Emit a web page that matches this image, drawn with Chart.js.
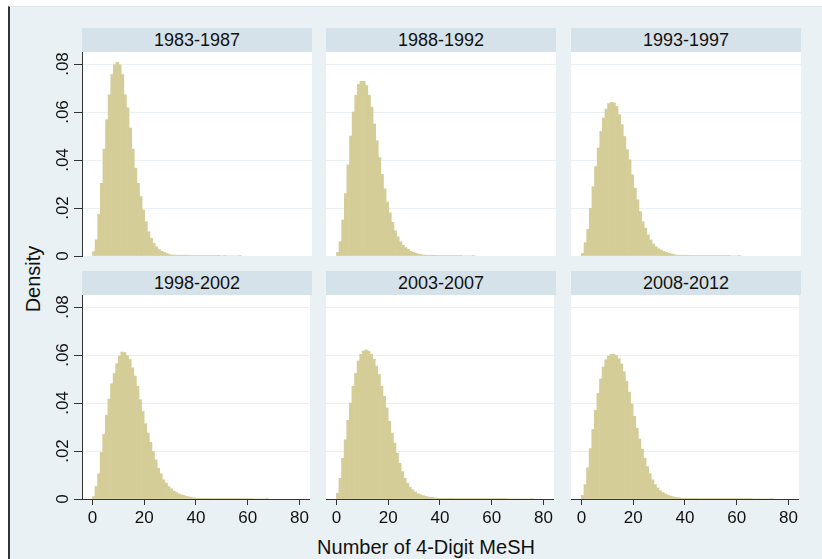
<!DOCTYPE html>
<html>
<head>
<meta charset="utf-8">
<script src="https://cdn.jsdelivr.net/npm/chart.js@4.4.1/dist/chart.umd.min.js"></script>
<style>
  body { margin: 0; background: #fff; width: 822px; height: 559px; overflow: hidden;
         font-family: Arial, "Liberation Sans", sans-serif; }
  #frame { position: absolute; left: 8px; top: 6px; width: 814px; height: 553px;
           background: #eaf1f4; border-left: 2px solid #333; border-top: 1px solid #dfe7eb;
           box-sizing: border-box; }
  .strip { position: absolute; height: 24px; line-height: 24px; background: #d6e2e9;
           color: #111; font-size: 18px; text-align: center; }
  .title { position: absolute; color: #111; font-size: 20px; white-space: nowrap; }
  canvas { position: absolute; }
</style>
</head>
<body>
<div id="frame"></div>
<div class="title" id="ytitle" style="left:33px;top:279px;transform:translate(-50%,-50%) rotate(-90deg);">Density</div>
<div class="title" style="left:426px;top:547px;transform:translate(-50%,-50%);">Number of 4-Digit MeSH</div>
<script>
// periodos (un panel por periodo)
const periods = ['1983-1987', '1988-1992', '1993-1997', '1998-2002', '2003-2007', '2008-2012'];

// densidad por valor entero (bin k va de k a k+1)
const density8387 = [.0018,.0067,.0174,.0303,.0445,.0568,.0672,.0756,.0797,.0807,
  .0797,.0756,.0672,.0617,.0533,.0445,.0366,.0303,.0248,.0192,
  .0143,.0101,.0074,.0053,.0038,.0027,.0020,.0015,.0010,.0006,
  .0004,.0004,.0003,.0003,.0003,.0003,.0003,.0002,.0002,.0002,
  .0002,.0002,.0002,.0002,.0002,.0002,.0002,.0002,.0002,0,
  .0002,0,0,0,0,0,.0002];
const density8892 = [.0015,.0060,.0150,.0260,.0380,.0500,.0600,.0670,.0715,.0728,
  .0728,.0710,.0670,.0620,.0550,.0480,.0410,.0340,.0280,.0225,
  .0180,.0140,.0105,.0080,.0060,.0045,.0035,.0027,.0020,.0015,
  .0011,.0008,.0006,.0004,.0003,.0003,.0003,.0003,.0002,.0002,
  .0002,.0002,.0002,.0002,.0002,.0002,.0002,.0002,0,0,
  0,0,.0002];
const density9397 = [.0011,.0056,.0111,.0199,.0289,.0373,.0450,.0519,.0575,.0612,
  .0635,.0640,.0638,.0623,.0589,.0547,.0498,.0443,.0401,.0338,
  .0283,.0234,.0185,.0143,.0116,.0088,.0067,.0050,.0039,.0030,
  .0025,.0019,.0015,.0012,.0009,.0006,.0004,.0003,.0003,.0003,
  .0003,.0002,.0002,.0002,.0002,.0002,.0002,.0002,.0002,.0002,
  .0002,.0002,.0002,.0002,.0002,.0002,.0002,0,0,0,.0002];
const density9802 = [.0010,.0052,.0105,.0194,.0270,.0349,.0417,.0480,.0523,.0564,
  .0596,.0612,.0610,.0598,.0582,.0547,.0512,.0470,.0414,.0365,
  .0314,.0275,.0236,.0198,.0163,.0128,.0105,.0080,.0066,.0052,
  .0042,.0033,.0027,.0021,.0017,.0014,.0011,.0008,.0006,.0004,
  .0003,.0003,.0003,.0003,.0003,.0002,.0002,.0002,.0002,.0002,
  .0002,.0002,.0002,.0002,.0002,.0002,.0002,.0002,.0002,.0002,
  .0002,.0002,0,0,0,0,0,.0002];
const density0307 = [.0024,.0086,.0170,.0247,.0328,.0400,.0470,.0523,.0575,.0603,
  .0616,.0621,.0616,.0603,.0582,.0554,.0519,.0470,.0428,.0379,
  .0324,.0275,.0233,.0191,.0149,.0114,.0086,.0066,.0049,.0038,
  .0029,.0022,.0018,.0014,.0011,.0008,.0007,.0006,.0004,.0003,
  .0003,.0003,.0003,.0003,.0003,.0002,.0002,.0002,.0002,.0002,
  .0002,.0002,.0002,.0002,.0002,.0002,.0002,.0002,.0002,.0002,
  .0002,.0002,.0002,.0002,.0002,.0002,0,0,0,0,
  0,0,0,0,0,.0002];
const density0812 = [.0015,.0060,.0130,.0210,.0290,.0370,.0440,.0500,.0550,.0580,
  .0595,.0602,.0603,.0598,.0585,.0562,.0530,.0490,.0445,.0395,
  .0345,.0295,.0250,.0208,.0170,.0135,.0105,.0080,.0060,.0046,
  .0035,.0027,.0021,.0016,.0012,.0009,.0007,.0005,.0004,.0003,
  .0003,.0003,.0003,.0003,.0003,.0002,.0002,.0002,.0002,.0002,
  .0002,.0002,.0002,.0002,.0002,.0002,.0002,.0002,.0002,.0002,
  .0002,.0002,.0002,.0002,.0002,.0002,0,0,0,0,
  0,0,0,.0002];
const series = [density8387, density8892, density9397, density9802, density0307, density0812];

const xTicks = [0, 20, 40, 60, 80];
const yTicks = [0, .02, .04, .06, .08];
const yTickLabels = ['0', '.02', '.04', '.06', '.08'];

// posiciones de los paneles (px)
const colLeft = [82, 326, 571];
const plotW = 230;
const stripTop = [28, 271];
const stripH = 24;
const plotH = 204;
const yAxisW = 30;
const xAxisH = 30;
const padBottom = 12; // margen para la etiqueta "0" en la fila de arriba

const barColor = '#d4cd98';
const gridColor = '#eaf1f4';
const axisColor = '#333';
const fontFam = 'Arial, "Liberation Sans", sans-serif';

// fondo blanco del area de trazado
const plotBg = {
  id: 'plotBg',
  beforeDraw(chart) {
    const a = chart.chartArea, ctx = chart.ctx;
    ctx.save();
    ctx.fillStyle = '#fff';
    ctx.fillRect(a.left, a.top, a.right - a.left, a.bottom - a.top);
    ctx.restore();
  }
};

// etiquetas del eje y giradas 90 grados (estilo Stata)
const yLabels = {
  id: 'yLabels',
  afterDraw(chart) {
    if (!chart.$showY) return;
    const s = chart.scales.y, ctx = chart.ctx;
    ctx.save();
    ctx.fillStyle = '#111';
    ctx.font = '17px ' + fontFam;
    ctx.textAlign = 'center';
    ctx.textBaseline = 'alphabetic';
    yTicks.forEach((v, i) => {
      const y = s.getPixelForValue(v);
      ctx.save();
      ctx.translate(s.right - 14, y);
      ctx.rotate(-Math.PI / 2);
      ctx.fillText(yTickLabels[i], 0, 0);
      ctx.restore();
    });
    ctx.restore();
  }
};

periods.forEach((p, i) => {
  const row = Math.floor(i / 3), col = i % 3;
  const left = colLeft[col], top = stripTop[row];
  const showY = col === 0, showX = row === 1;

  const strip = document.createElement('div');
  strip.className = 'strip';
  strip.style.left = left + 'px';
  strip.style.top = top + 'px';
  strip.style.width = plotW + 'px';
  strip.textContent = p;
  document.body.appendChild(strip);

  const cv = document.createElement('canvas');
  const w = plotW + (showY ? yAxisW : 0);
  const h = plotH + (showX ? xAxisH : padBottom);
  cv.width = w; cv.height = h;
  cv.style.width = w + 'px'; cv.style.height = h + 'px';
  cv.style.left = (left - (showY ? yAxisW : 0)) + 'px';
  cv.style.top = (top + stripH) + 'px';
  document.body.appendChild(cv);

  const chart = new Chart(cv, {
    type: 'bar',
    data: {
      datasets: [{
        data: series[i].map((v, k) => ({ x: k + 0.5, y: v })),
        backgroundColor: barColor,
        borderWidth: 0,
        barPercentage: 1,
        categoryPercentage: 1
      }]
    },
    options: {
      responsive: false,
      animation: false,
      layout: { padding: { left: 0, right: 0, top: 0, bottom: showX ? 0 : padBottom } },
      plugins: { legend: { display: false }, tooltip: { enabled: false } },
      scales: {
        x: {
          type: 'linear', min: -4, max: 84, offset: false, display: showX,
          afterBuildTicks: s => { s.ticks = xTicks.map(v => ({ value: v })); },
          afterFit: s => { s.height = showX ? xAxisH : 0; },
          grid: { drawOnChartArea: false, drawTicks: true, tickLength: 6, tickColor: axisColor, offset: false },
          border: { display: true, color: axisColor, width: 1 },
          ticks: { color: '#111', font: { size: 17, family: fontFam }, padding: 3,
                   maxRotation: 0, autoSkip: false }
        },
        y: {
          type: 'linear', min: 0, max: 0.085,
          afterBuildTicks: s => { s.ticks = yTicks.map(v => ({ value: v })); },
          afterFit: s => { s.width = showY ? yAxisW : 0; },
          grid: { color: gridColor, lineWidth: 1, drawTicks: showY, tickLength: 8, tickColor: axisColor },
          border: { display: showY, color: axisColor, width: 1 },
          ticks: { display: false }
        }
      }
    },
    plugins: [plotBg, yLabels]
  });
  chart.$showY = showY;
  chart.draw();
});
</script>
</body>
</html>
